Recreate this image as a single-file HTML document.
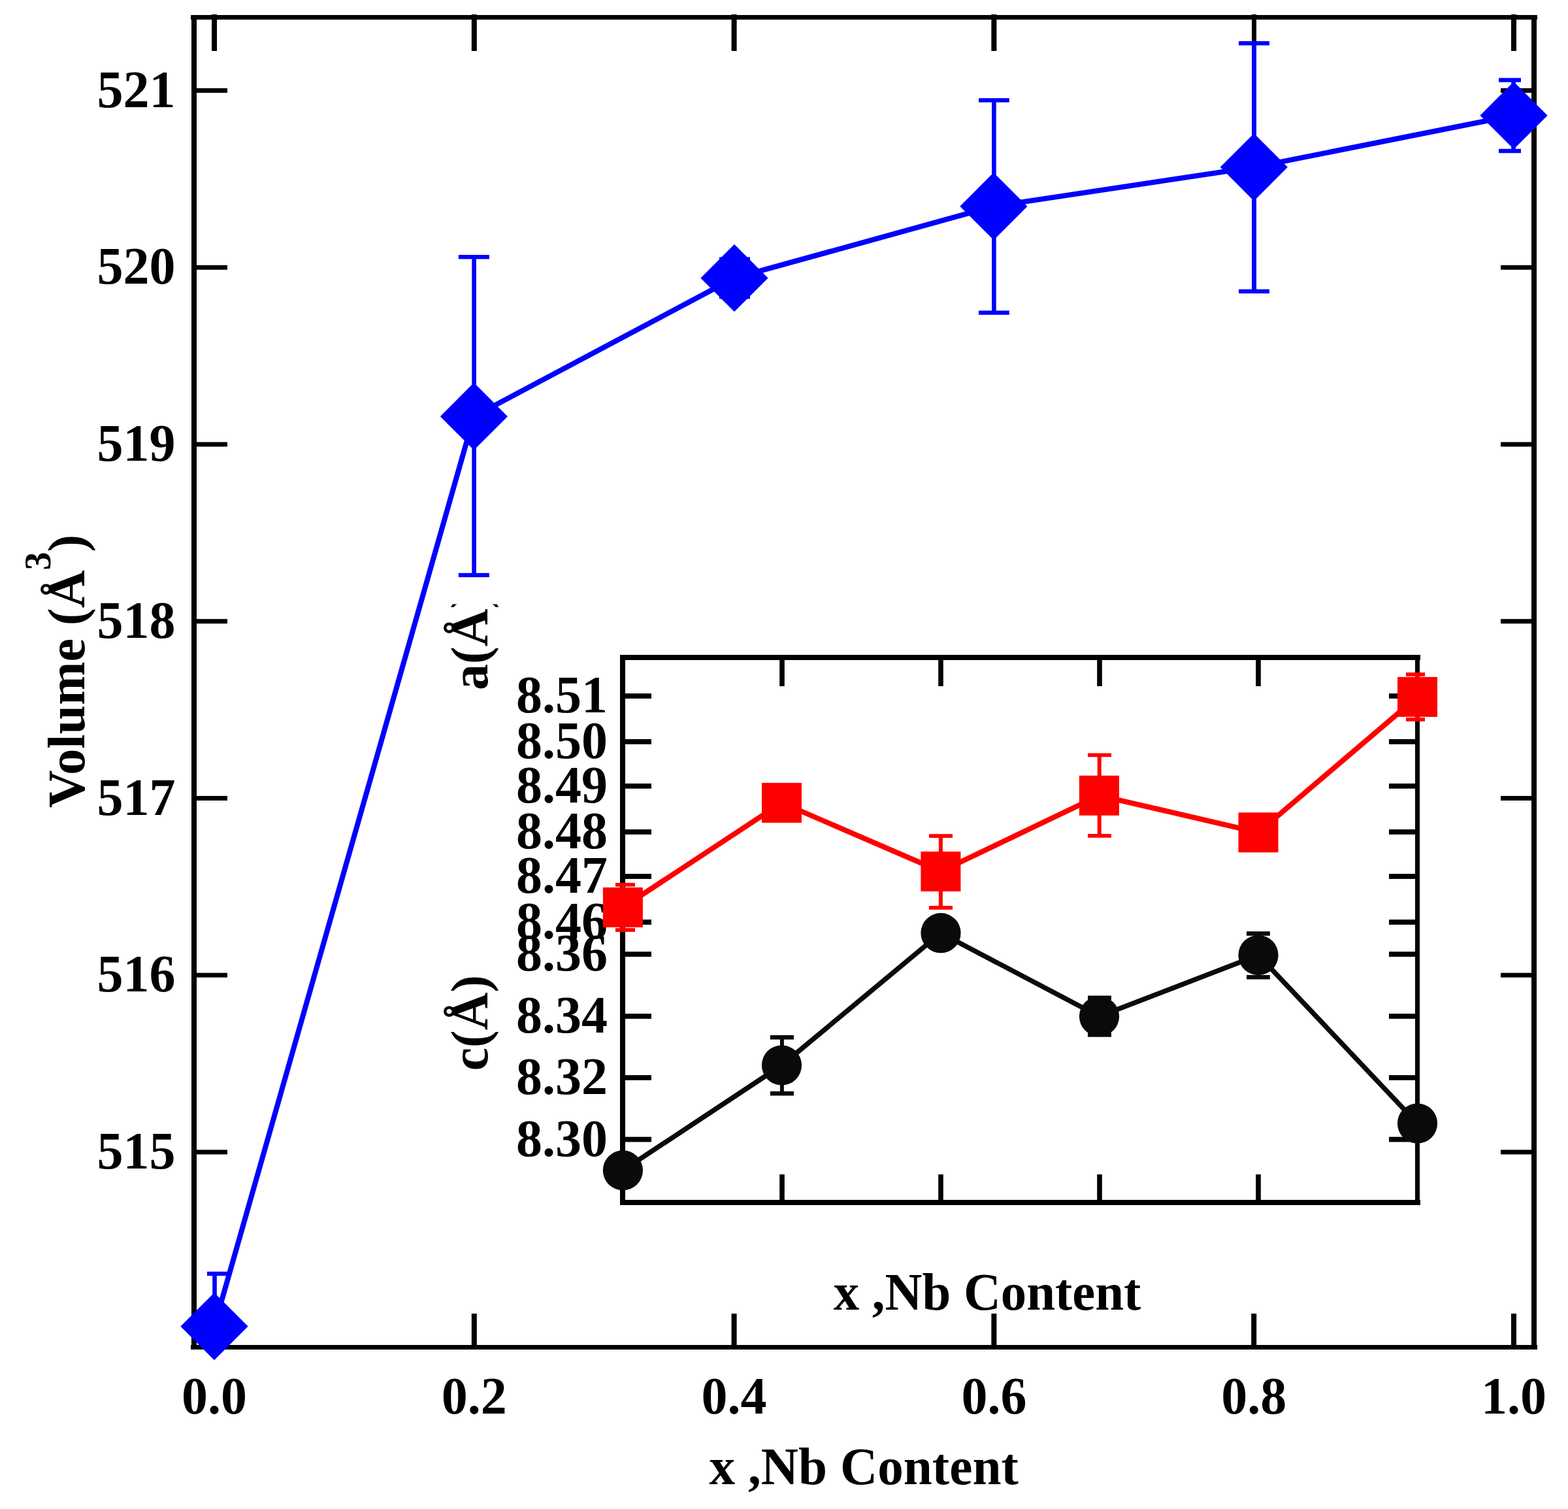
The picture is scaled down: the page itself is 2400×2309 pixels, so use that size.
<!DOCTYPE html>
<html><head><meta charset="utf-8"><title>Volume vs Nb content</title>
<style>html,body{margin:0;padding:0;background:#fff;overflow:hidden;width:2400px;height:2309px;}svg{display:block;}</style>
</head><body>
<svg width="2400" height="2309" viewBox="0 0 2400 2309">
<rect x="0" y="0" width="2400" height="2309" fill="#fff"/>
<defs><clipPath id="clipA"><rect x="600" y="924.5" width="200" height="200"/></clipPath></defs>
<g font-family="&quot;Liberation Serif&quot;, &quot;Times New Roman&quot;, serif" font-weight="bold" font-size="80" fill="#000">
<rect x="293.00" y="23.00" width="8.00" height="2042.00" fill="#000000"/>
<rect x="2344.00" y="23.00" width="8.00" height="2042.00" fill="#000000"/>
<rect x="292.00" y="23.00" width="2061.00" height="7.00" fill="#000000"/>
<rect x="292.00" y="2058.00" width="2061.00" height="7.00" fill="#000000"/>
<rect x="324.00" y="22.00" width="8.00" height="56.00" fill="#000000"/>
<rect x="324.00" y="2010.00" width="8.00" height="48.00" fill="#000000"/>
<rect x="721.80" y="22.00" width="8.00" height="56.00" fill="#000000"/>
<rect x="721.80" y="2010.00" width="8.00" height="48.00" fill="#000000"/>
<rect x="1119.60" y="22.00" width="8.00" height="56.00" fill="#000000"/>
<rect x="1119.60" y="2010.00" width="8.00" height="48.00" fill="#000000"/>
<rect x="1517.40" y="22.00" width="8.00" height="56.00" fill="#000000"/>
<rect x="1517.40" y="2010.00" width="8.00" height="48.00" fill="#000000"/>
<rect x="1916.00" y="22.00" width="7.00" height="56.00" fill="#000000"/>
<rect x="1915.20" y="2010.00" width="8.00" height="48.00" fill="#000000"/>
<rect x="2313.00" y="22.00" width="8.00" height="56.00" fill="#000000"/>
<rect x="2313.00" y="2010.00" width="8.00" height="48.00" fill="#000000"/>
<rect x="301.00" y="1759.38" width="47.00" height="7.00" fill="#000000"/>
<rect x="2297.00" y="1759.38" width="47.00" height="7.00" fill="#000000"/>
<rect x="301.00" y="1488.65" width="47.00" height="7.00" fill="#000000"/>
<rect x="2297.00" y="1488.65" width="47.00" height="7.00" fill="#000000"/>
<rect x="301.00" y="1217.92" width="47.00" height="7.00" fill="#000000"/>
<rect x="2297.00" y="1217.92" width="47.00" height="7.00" fill="#000000"/>
<rect x="301.00" y="947.19" width="47.00" height="7.00" fill="#000000"/>
<rect x="2297.00" y="947.19" width="47.00" height="7.00" fill="#000000"/>
<rect x="301.00" y="676.46" width="47.00" height="7.00" fill="#000000"/>
<rect x="2297.00" y="676.46" width="47.00" height="7.00" fill="#000000"/>
<rect x="301.00" y="405.73" width="47.00" height="7.00" fill="#000000"/>
<rect x="2297.00" y="405.73" width="47.00" height="7.00" fill="#000000"/>
<rect x="301.00" y="135.00" width="47.00" height="7.00" fill="#000000"/>
<rect x="2297.00" y="135.00" width="47.00" height="7.00" fill="#000000"/>
<text x="268.5" y="1788.1" text-anchor="end">515</text>
<text x="268.5" y="1517.4" text-anchor="end">516</text>
<text x="268.5" y="1246.6" text-anchor="end">517</text>
<text x="268.5" y="975.9" text-anchor="end">518</text>
<text x="268.5" y="705.2" text-anchor="end">519</text>
<text x="268.5" y="434.4" text-anchor="end">520</text>
<text x="268.5" y="163.7" text-anchor="end">521</text>
<text x="328.0" y="2162.8" text-anchor="middle">0.0</text>
<text x="725.8" y="2162.8" text-anchor="middle">0.2</text>
<text x="1123.6" y="2162.8" text-anchor="middle">0.4</text>
<text x="1521.4" y="2162.8" text-anchor="middle">0.6</text>
<text x="1919.2" y="2162.8" text-anchor="middle">0.8</text>
<text x="2317.0" y="2162.8" text-anchor="middle">1.0</text>
<text transform="translate(1322.2,2271.2) scale(0.991,1)" text-anchor="middle">x ,Nb Content</text>
<text transform="translate(129,1027) rotate(-90)" text-anchor="middle">Volume (&#197;<tspan font-size="56" dy="-52">3</tspan><tspan dy="52">)</tspan></text>
<rect x="325.20" y="1949.00" width="6.60" height="80.60" fill="#0000ff"/>
<rect x="317.00" y="1945.80" width="34.00" height="6.40" fill="#0000ff"/>
<rect x="722.30" y="393.20" width="6.60" height="486.80" fill="#0000ff"/>
<rect x="701.80" y="390.00" width="47.10" height="6.40" fill="#0000ff"/>
<rect x="701.80" y="876.80" width="47.10" height="6.40" fill="#0000ff"/>
<rect x="1120.70" y="396.60" width="6.60" height="57.50" fill="#0000ff"/>
<rect x="1101.00" y="393.40" width="47.00" height="6.40" fill="#0000ff"/>
<rect x="1101.00" y="450.90" width="47.00" height="6.40" fill="#0000ff"/>
<rect x="1518.10" y="153.40" width="6.60" height="325.10" fill="#0000ff"/>
<rect x="1498.00" y="150.20" width="46.80" height="6.40" fill="#0000ff"/>
<rect x="1498.00" y="475.30" width="46.80" height="6.40" fill="#0000ff"/>
<rect x="1916.00" y="66.20" width="7.00" height="379.60" fill="#0000ff"/>
<rect x="1896.00" y="63.00" width="47.00" height="6.40" fill="#0000ff"/>
<rect x="1896.00" y="442.60" width="47.00" height="6.40" fill="#0000ff"/>
<rect x="2313.20" y="122.50" width="6.60" height="108.50" fill="#0000ff"/>
<rect x="2294.00" y="119.30" width="34.00" height="6.40" fill="#0000ff"/>
<rect x="2294.00" y="227.80" width="34.00" height="6.40" fill="#0000ff"/>
<polyline points="328,2029.6 725.4,637.2 1124,425.4 1520.9,315.65 1919.3,255.85 2317,176.65" fill="none" stroke="#0000ff" stroke-width="8" stroke-linejoin="round"/>
<polygon points="328,1978.0 379.6,2029.6 328,2081.2 276.4,2029.6" fill="#0000ff"/>
<polygon points="725.4,585.6 777.0,637.2 725.4,688.8000000000001 673.8,637.2" fill="#0000ff"/>
<polygon points="1124,373.79999999999995 1175.6,425.4 1124,477.0 1072.4,425.4" fill="#0000ff"/>
<polygon points="1520.9,264.04999999999995 1572.5,315.65 1520.9,367.25 1469.3000000000002,315.65" fill="#0000ff"/>
<polygon points="1919.3,204.25 1970.8999999999999,255.85 1919.3,307.45 1867.7,255.85" fill="#0000ff"/>
<polygon points="2317,125.05000000000001 2368.6,176.65 2317,228.25 2265.4,176.65" fill="#0000ff"/>
<rect x="949.00" y="1002.00" width="8.00" height="842.00" fill="#000000"/>
<rect x="2166.00" y="1002.00" width="7.00" height="842.00" fill="#000000"/>
<rect x="949.00" y="1002.00" width="1225.00" height="8.00" fill="#000000"/>
<rect x="949.00" y="1836.00" width="1225.00" height="8.00" fill="#000000"/>
<rect x="1193.20" y="1010.00" width="7.60" height="40.00" fill="#000000"/>
<rect x="1193.20" y="1797.00" width="7.60" height="39.00" fill="#000000"/>
<rect x="1436.20" y="1010.00" width="7.60" height="40.00" fill="#000000"/>
<rect x="1436.20" y="1797.00" width="7.60" height="39.00" fill="#000000"/>
<rect x="1679.20" y="1010.00" width="7.60" height="40.00" fill="#000000"/>
<rect x="1679.20" y="1797.00" width="7.60" height="39.00" fill="#000000"/>
<rect x="1922.20" y="1010.00" width="7.60" height="40.00" fill="#000000"/>
<rect x="1922.20" y="1797.00" width="7.60" height="39.00" fill="#000000"/>
<rect x="957.00" y="1061.10" width="40.00" height="7.80" fill="#000000"/>
<rect x="2126.00" y="1061.10" width="40.00" height="7.80" fill="#000000"/>
<text x="930" y="1090.2" text-anchor="end">8.51</text>
<rect x="957.00" y="1131.00" width="40.00" height="7.80" fill="#000000"/>
<rect x="2126.00" y="1131.00" width="40.00" height="7.80" fill="#000000"/>
<text x="930" y="1160.1" text-anchor="end">8.50</text>
<rect x="957.00" y="1198.90" width="40.00" height="7.80" fill="#000000"/>
<rect x="2126.00" y="1198.90" width="40.00" height="7.80" fill="#000000"/>
<text x="930" y="1228.0" text-anchor="end">8.49</text>
<rect x="957.00" y="1269.10" width="40.00" height="7.80" fill="#000000"/>
<rect x="2126.00" y="1269.10" width="40.00" height="7.80" fill="#000000"/>
<text x="930" y="1298.2" text-anchor="end">8.48</text>
<rect x="957.00" y="1337.10" width="40.00" height="7.80" fill="#000000"/>
<rect x="2126.00" y="1337.10" width="40.00" height="7.80" fill="#000000"/>
<text x="930" y="1366.2" text-anchor="end">8.47</text>
<rect x="957.00" y="1407.10" width="40.00" height="7.80" fill="#000000"/>
<rect x="2126.00" y="1407.10" width="40.00" height="7.80" fill="#000000"/>
<text x="930" y="1436.2" text-anchor="end">8.46</text>
<rect x="957.00" y="1456.20" width="40.00" height="7.80" fill="#000000"/>
<rect x="2126.00" y="1456.20" width="40.00" height="7.80" fill="#000000"/>
<text x="930" y="1485.3" text-anchor="end">8.36</text>
<rect x="957.00" y="1551.10" width="40.00" height="7.80" fill="#000000"/>
<rect x="2126.00" y="1551.10" width="40.00" height="7.80" fill="#000000"/>
<text x="930" y="1580.2" text-anchor="end">8.34</text>
<rect x="957.00" y="1645.10" width="40.00" height="7.80" fill="#000000"/>
<rect x="2126.00" y="1645.10" width="40.00" height="7.80" fill="#000000"/>
<text x="930" y="1674.2" text-anchor="end">8.32</text>
<rect x="957.00" y="1739.60" width="40.00" height="7.80" fill="#000000"/>
<rect x="2126.00" y="1739.60" width="40.00" height="7.80" fill="#000000"/>
<text x="930" y="1768.7" text-anchor="end">8.30</text>
<rect x="950.40" y="1353.80" width="6.00" height="69.20" fill="#ff0000"/>
<rect x="942.00" y="1350.90" width="30.00" height="5.80" fill="#ff0000"/>
<rect x="942.00" y="1420.10" width="30.00" height="5.80" fill="#ff0000"/>
<rect x="1436.90" y="1279.10" width="6.00" height="109.90" fill="#ff0000"/>
<rect x="1422.00" y="1276.20" width="36.00" height="5.80" fill="#ff0000"/>
<rect x="1422.00" y="1386.10" width="36.00" height="5.80" fill="#ff0000"/>
<rect x="1679.70" y="1155.40" width="6.00" height="123.50" fill="#ff0000"/>
<rect x="1665.00" y="1152.50" width="36.00" height="5.80" fill="#ff0000"/>
<rect x="1665.00" y="1276.00" width="36.00" height="5.80" fill="#ff0000"/>
<rect x="2166.00" y="1031.90" width="7.00" height="69.00" fill="#ff0000"/>
<rect x="2152.00" y="1029.00" width="29.00" height="5.80" fill="#ff0000"/>
<rect x="2152.00" y="1098.00" width="29.00" height="5.80" fill="#ff0000"/>
<polyline points="953.4,1388.4 1196.5,1228.4 1439.9,1333.5 1682.4,1217.3 1926,1273.8 2169.5,1066.4" fill="none" stroke="#ff0000" stroke-width="8" stroke-linejoin="round"/>
<rect x="922.90" y="1357.90" width="61.00" height="61.00" fill="#ff0000"/>
<rect x="1166.00" y="1197.90" width="61.00" height="61.00" fill="#ff0000"/>
<rect x="1409.40" y="1303.00" width="61.00" height="61.00" fill="#ff0000"/>
<rect x="1651.90" y="1186.80" width="61.00" height="61.00" fill="#ff0000"/>
<rect x="1895.50" y="1243.30" width="61.00" height="61.00" fill="#ff0000"/>
<rect x="2139.00" y="1035.90" width="61.00" height="61.00" fill="#ff0000"/>
<rect x="1193.90" y="1587.30" width="6.00" height="85.90" fill="#0a0a0a"/>
<rect x="1178.80" y="1584.00" width="36.20" height="6.60" fill="#0a0a0a"/>
<rect x="1178.80" y="1669.90" width="36.20" height="6.60" fill="#0a0a0a"/>
<rect x="1680.00" y="1526.80" width="6.00" height="56.60" fill="#0a0a0a"/>
<rect x="1665.00" y="1523.50" width="36.00" height="6.60" fill="#0a0a0a"/>
<rect x="1665.00" y="1580.10" width="36.00" height="6.60" fill="#0a0a0a"/>
<rect x="1923.00" y="1428.50" width="6.00" height="66.70" fill="#0a0a0a"/>
<rect x="1908.00" y="1425.20" width="35.80" height="6.60" fill="#0a0a0a"/>
<rect x="1908.00" y="1491.90" width="35.80" height="6.60" fill="#0a0a0a"/>
<polyline points="953.4,1790.8 1196.5,1630 1440,1427.7 1682.5,1555.2 1926,1461.5 2169.5,1719" fill="none" stroke="#0a0a0a" stroke-width="7.5" stroke-linejoin="round"/>
<circle cx="953.4" cy="1790.8" r="30.6" fill="#0a0a0a"/>
<circle cx="1196.5" cy="1630" r="30.6" fill="#0a0a0a"/>
<circle cx="1440" cy="1427.7" r="30.6" fill="#0a0a0a"/>
<circle cx="1682.5" cy="1555.2" r="30.6" fill="#0a0a0a"/>
<circle cx="1926" cy="1461.5" r="30.6" fill="#0a0a0a"/>
<circle cx="2169.5" cy="1719" r="30.6" fill="#0a0a0a"/>
<g clip-path="url(#clipA)"><text transform="translate(746,1056) rotate(-90)" text-anchor="start">a(&#197;)</text></g>
<text transform="translate(746,1638.5) rotate(-90)" text-anchor="start">c(&#197;)</text>
<text transform="translate(1511,2004.3) scale(0.985,1)" text-anchor="middle">x ,Nb Content</text>
</g></svg>
</body></html>
